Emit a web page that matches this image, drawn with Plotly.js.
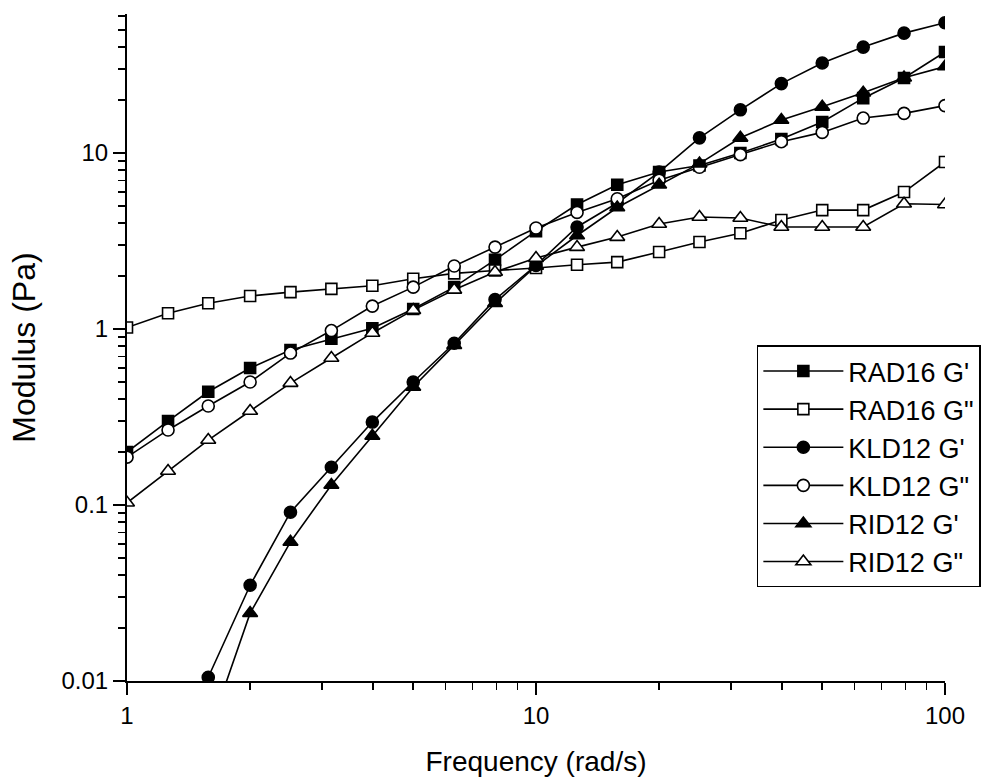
<!DOCTYPE html>
<html>
<head>
<meta charset="utf-8">
<script src="https://cdn.plot.ly/plotly-3.0.1.min.js"></script>
<style>html,body{margin:0;padding:0;background:#fff;}#chart{width:1004px;height:777px;}</style>
</head>
<body>
<div id="chart"></div>
<script>
// Frequencies (rad/s)
const freq = [1, 1.26, 1.58, 2, 2.51, 3.16, 3.98, 5.01, 6.31, 7.94, 10, 12.6, 15.8, 20, 25.1, 31.6, 39.8, 50.1, 63.1, 79.4, 100];

// Series values (Pa)
const rad16Gp  = [0.2, 0.30, 0.44, 0.60, 0.76, 0.88, 1.01, 1.30, 1.73, 2.47, 3.6, 5.1, 6.6, 7.8, 8.5, 10.0, 12.0, 15.0, 20.5, 26.7, 37.5];
const rad16Gpp = [1.02, 1.23, 1.40, 1.54, 1.62, 1.69, 1.76, 1.93, 2.07, 2.15, 2.22, 2.32, 2.40, 2.74, 3.12, 3.5, 4.16, 4.74, 4.74, 6.0, 8.9];
const kld12Gp  = [null, null, 0.0105, 0.035, 0.091, 0.164, 0.296, 0.5, 0.83, 1.47, 2.3, 3.8, 5.2, 7.8, 12.2, 17.6, 24.8, 32.5, 40, 48, 55];
const kld12Gpp = [0.187, 0.267, 0.365, 0.50, 0.73, 0.98, 1.35, 1.73, 2.28, 2.92, 3.75, 4.6, 5.5, 7.0, 8.3, 9.8, 11.6, 13.1, 15.8, 16.8, 18.6];
const rid12Gp  = [null, null, 0.005, 0.0243, 0.0617, 0.13, 0.247, 0.468, 0.81, 1.40, 2.28, 3.4, 4.9, 6.6, 8.7, 12.2, 15.4, 18.3, 22, 26.8, 31];
const rid12Gpp = [0.103, 0.156, 0.234, 0.342, 0.493, 0.684, 0.95, 1.28, 1.67, 2.11, 2.53, 2.92, 3.33, 3.95, 4.33, 4.27, 3.8, 3.8, 3.8, 5.15, 5.1];

const seriesNames = ["RAD16 G'", 'RAD16 G"', "KLD12 G'", 'KLD12 G"', "RID12 G'", 'RID12 G"'];

// Tick labels
const xTickVals = [1, 10, 100];
const xTickText = ['1', '10', '100'];
const yTickVals = [0.01, 0.1, 1, 10];
const yTickText = ['0.01', '0.1', '1', '10'];

const seriesData = [rad16Gp, rad16Gpp, kld12Gp, kld12Gpp, rid12Gp, rid12Gpp];
const symbols = ['square', 'square', 'circle', 'circle', 'triangle-up', 'triangle-up'];
const filled = [true, false, true, false, true, false];
const sizes = [11, 11, 12, 12, 13, 13];

const traces = seriesData.map((ys, i) => ({
  x: freq,
  y: ys,
  name: seriesNames[i],
  type: 'scatter',
  mode: 'lines+markers',
  connectgaps: false,
  line: {color: 'black', width: 1.6},
  marker: {
    symbol: symbols[i],
    size: sizes[i],
    color: filled[i] ? 'black' : 'white',
    line: {color: 'black', width: 1.6}
  },
  cliponaxis: true
}));

const fontFam = 'Liberation Sans, Arial, sans-serif';

const layout = {
  width: 1004,
  height: 777,
  margin: {l: 127, r: 59, t: 14, b: 96},
  paper_bgcolor: 'white',
  plot_bgcolor: 'white',
  font: {family: fontFam, color: 'black', size: 24},
  showlegend: true,
  legend: {
    x: 0.77, y: 0.503, xanchor: 'left', yanchor: 'top',
    bordercolor: 'black', borderwidth: 1.5, bgcolor: 'white',
    font: {family: fontFam, size: 27, color: 'black'},
    itemwidth: 80
  },
  xaxis: {
    type: 'log',
    range: [0, 2],
    tickvals: xTickVals,
    ticktext: xTickText,
    ticks: 'outside', ticklen: 12, tickwidth: 2, tickcolor: 'black',
    showline: true, linecolor: 'black', linewidth: 2,
    showgrid: false, zeroline: false, mirror: false,
    tickfont: {family: fontFam, size: 24},
    minor: {dtick: 'D1', ticks: 'outside', ticklen: 7, tickwidth: 1.5, tickcolor: 'black', showgrid: false},
    title: {text: 'Frequency (rad/s)', font: {family: fontFam, size: 28}, standoff: 24}
  },
  yaxis: {
    type: 'log',
    range: [-2, 1.79],
    tickvals: yTickVals,
    ticktext: yTickText,
    ticks: 'outside', ticklen: 12, tickwidth: 2, tickcolor: 'black',
    showline: true, linecolor: 'black', linewidth: 2,
    showgrid: false, zeroline: false, mirror: false,
    tickfont: {family: fontFam, size: 24},
    minor: {dtick: 'D1', ticks: 'outside', ticklen: 7, tickwidth: 1.5, tickcolor: 'black', showgrid: false},
    title: {text: 'Modulus (Pa)', font: {family: fontFam, size: 32}, standoff: 16}
  }
};

Plotly.newPlot('chart', traces, layout, {displayModeBar: false, staticPlot: true});
</script>
</body>
</html>
